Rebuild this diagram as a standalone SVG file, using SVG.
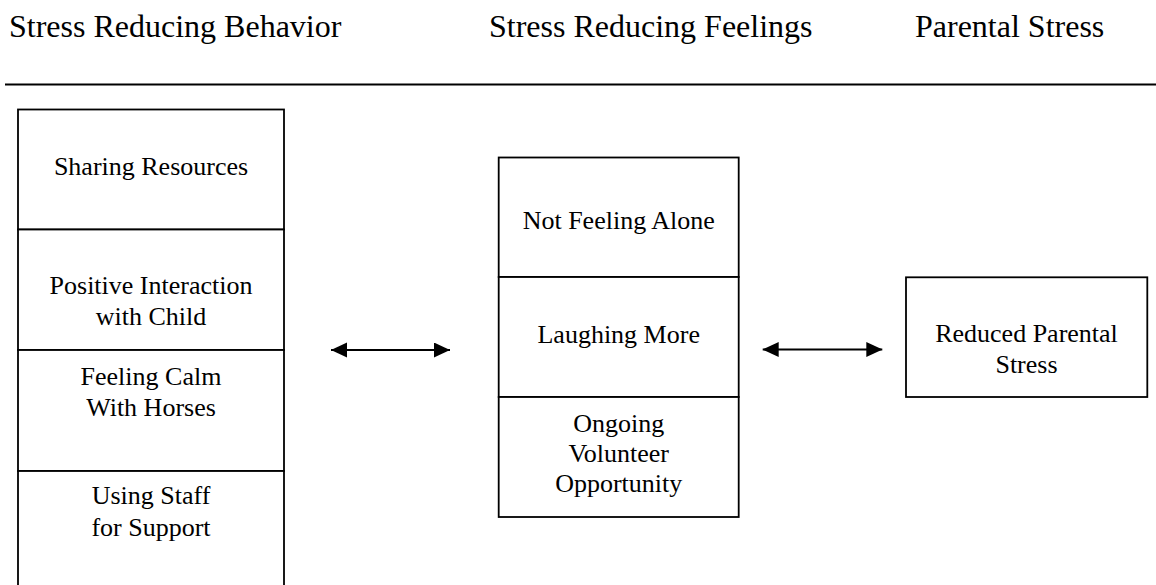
<svg xmlns="http://www.w3.org/2000/svg" width="1156" height="585" viewBox="0 0 1156 585">
  <style>
    .hdr { font-family: "Liberation Serif", "Times New Roman", serif; font-size: 32px; fill: #000; }
    .lbl { font-family: "Liberation Serif", "Times New Roman", serif; font-size: 26px; fill: #000; text-anchor: middle; }
    .box { fill: #fff; stroke: #000; stroke-width: 1.8; }
    .conn { stroke: #000; stroke-width: 2; fill: none; }
  </style>
  <defs>
    <marker id="ah" markerUnits="userSpaceOnUse" markerWidth="16" markerHeight="16" refX="16" refY="7.5" orient="auto-start-reverse">
      <path d="M0,0 L16,7.5 L0,15 z" fill="#000"/>
    </marker>
  </defs>
  <rect width="1156" height="585" fill="#fff"/>

  <g id="headers">
    <text class="hdr" x="9" y="37">Stress Reducing Behavior</text>
    <text class="hdr" x="489" y="37">Stress Reducing Feelings</text>
    <text class="hdr" x="915" y="37">Parental Stress</text>
    <line x1="5" y1="84.5" x2="1156" y2="84.5" stroke="#000" stroke-width="2.2"/>
  </g>

  <g id="sharing-resources">
    <rect class="box" x="18" y="109.5" width="266" height="120"/>
    <text class="lbl" x="151" y="175">Sharing Resources</text>
  </g>
  <g id="positive-interaction">
    <rect class="box" x="18" y="229.5" width="266" height="120.5"/>
    <text class="lbl" x="151" y="294">Positive Interaction</text>
    <text class="lbl" x="151" y="325">with Child</text>
  </g>
  <g id="feeling-calm">
    <rect class="box" x="18" y="350" width="266" height="121"/>
    <text class="lbl" x="151" y="385">Feeling Calm</text>
    <text class="lbl" x="151" y="416">With Horses</text>
  </g>
  <g id="using-staff">
    <rect class="box" x="18" y="471" width="266" height="125"/>
    <text class="lbl" x="151" y="504">Using Staff</text>
    <text class="lbl" x="151" y="536">for Support</text>
  </g>

  <g id="not-feeling-alone">
    <rect class="box" x="498.7" y="157.5" width="240" height="119.5"/>
    <text class="lbl" x="618.7" y="229">Not Feeling Alone</text>
  </g>
  <g id="laughing-more">
    <rect class="box" x="498.7" y="277" width="240" height="120"/>
    <text class="lbl" x="618.7" y="343">Laughing More</text>
  </g>
  <g id="ongoing-volunteer">
    <rect class="box" x="498.7" y="397" width="240" height="120"/>
    <text class="lbl" x="618.7" y="431.5">Ongoing</text>
    <text class="lbl" x="618.7" y="461.5">Volunteer</text>
    <text class="lbl" x="618.7" y="491.5">Opportunity</text>
  </g>

  <g id="reduced-parental-stress">
    <rect class="box" x="906" y="277.3" width="241.3" height="119.7"/>
    <text class="lbl" x="1026.5" y="342">Reduced Parental</text>
    <text class="lbl" x="1026.5" y="373">Stress</text>
  </g>

  <g id="connectors">
    <line class="conn" x1="331" y1="350" x2="450" y2="350" marker-start="url(#ah)" marker-end="url(#ah)"/>
    <line class="conn" x1="762.7" y1="349.5" x2="882.3" y2="349.5" marker-start="url(#ah)" marker-end="url(#ah)"/>
  </g>
</svg>
